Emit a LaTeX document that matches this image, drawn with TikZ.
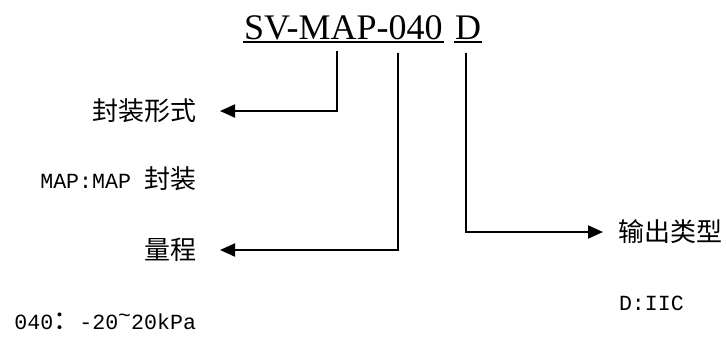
\documentclass[tikz,border=0pt]{standalone}
\usepackage{fontspec}
\setmainfont{Liberation Serif}
\setmonofont{Liberation Mono}
\newfontfamily\cjk{Noto Sans CJK SC}
\usetikzlibrary{arrows.meta}

\newcommand\cjkbig{\cjk\fontsize{13pt}{15pt}\selectfont}

\begin{document}
\begin{tikzpicture}[x=0.5pt,y=-0.5pt,line width=1pt,
  lead/.style={-{Triangle[length=7.5pt,width=6.5pt]}},
  code/.style={font=\fontsize{18pt}{20pt}\selectfont,inner sep=0pt,anchor=base west},
  cn/.style={font=\cjkbig,inner sep=0pt,anchor=east},
  val/.style={font=\ttfamily\fontsize{10.8pt}{12pt}\selectfont,inner sep=0pt,anchor=east}]
  \useasboundingbox (0,0) rectangle (726,338);
  % model code
  \node[code] (pn) at (243,39) {SV-MAP-040};
  \node[code] (ot) at (454,39) {D};
  \draw[line width=0.8pt] ([yshift=-1.6pt]pn.base west) -- ([yshift=-1.6pt]pn.base east);
  \draw[line width=0.8pt] ([yshift=-1.6pt]ot.base west) -- ([yshift=-1.6pt]ot.base east);
  % labels
  \node[cn] (pkg) at (197,111) {封装形式};
  \node[val] (pkgv) at (197,179) {MAP:MAP {\cjkbig 封装}};
  \node[cn] (rng) at (197,250) {量程};
  \node[val] (rngv) at (197,321) {040{\cjkbig ：}-20\raisebox{0.3em}{\textasciitilde}20kPa};
  \node[cn,anchor=west] (out) at (617,232) {输出类型};
  \node[val,anchor=west] (outv) at (618,303) {D:IIC};
  % leaders
  \coordinate (s1) at (337,51);
  \coordinate (s2) at (398,53);
  \coordinate (s3) at (466,53);
  \draw[lead,shorten >=11.5pt] (s1) |- (pkg);
  \draw[lead,shorten >=11.5pt] (s2) |- (rng);
  \draw[lead,shorten >=7pt] (s3) |- (out);
\end{tikzpicture}
\end{document}
